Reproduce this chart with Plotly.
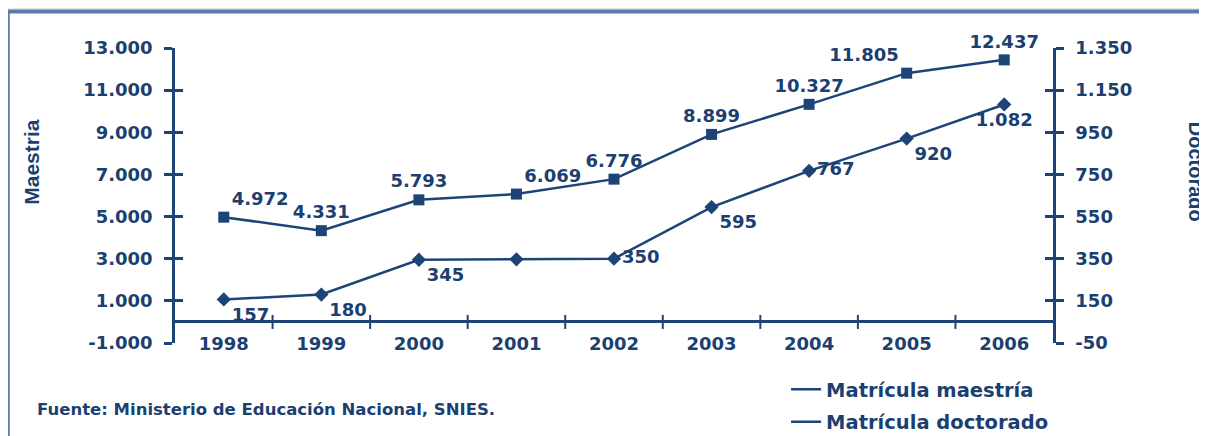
import plotly.graph_objects as go

# ---- data ----
years = [1998, 1999, 2000, 2001, 2002, 2003, 2004, 2005, 2006]
maestria = [4972, 4331, 5793, 6069, 6776, 8899, 10327, 11805, 12437]
doctorado = [157, 180, 345, 347, 350, 595, 767, 920, 1082]
doctorado_shown = [True, True, True, False, True, True, True, True, True]
left_ticks = [-1000, 1000, 3000, 5000, 7000, 9000, 11000, 13000]
right_ticks = [-50, 150, 350, 550, 750, 950, 1150, 1350]
series_names = ["Matrícula maestría", "Matrícula doctorado"]
source_text = "Fuente: Ministerio de Educación Nacional, SNIES."

# ---- style ----
NAVY = "#1d4477"
TXT = "#1b3f70"
FONT = "DejaVu Sans"
NARROW = "Liberation Sans Narrow, Liberation Sans, Arial Narrow"
maestria_pos = ["top right", "top center", "top center", "top right", "top center",
                "top center", "top center", "top left", "top center"]
doctorado_pos = ["bottom right", "bottom right", "bottom right", "middle right", "middle right",
                 "bottom right", "middle right", "bottom right", "bottom center"]


def fmt(v):
    return f"{v:,}".replace(",", ".")


fig = go.Figure()

fig.add_trace(go.Scatter(
    x=years, y=maestria, mode="lines+markers+text",
    text=[fmt(v) for v in maestria], textposition=maestria_pos,
    textfont=dict(family=FONT, size=18, color=TXT, weight="bold"),
    line=dict(color=NAVY, width=2.5),
    marker=dict(symbol="square", size=11, color=NAVY),
    cliponaxis=False, showlegend=False, yaxis="y", hoverinfo="skip"))

fig.add_trace(go.Scatter(
    x=years, y=doctorado, mode="lines+markers+text",
    text=[fmt(v) if s else "" for v, s in zip(doctorado, doctorado_shown)],
    textposition=doctorado_pos,
    textfont=dict(family=FONT, size=18, color=TXT, weight="bold"),
    line=dict(color=NAVY, width=2.5),
    marker=dict(symbol="diamond", size=11, color=NAVY),
    cliponaxis=False, showlegend=False, yaxis="y2", hoverinfo="skip"))

# category separator ticks on the x axis line (y = 0)
fig.add_trace(go.Scatter(
    x=[y + 0.5 for y in years[:-1]], y=[0] * (len(years) - 1), mode="markers",
    marker=dict(symbol="line-ns", size=10, line=dict(color=NAVY, width=2)),
    cliponaxis=False, showlegend=False, yaxis="y", hoverinfo="skip"))

# legend entries (line only)
for i, nm in enumerate(series_names):
    fig.add_trace(go.Scatter(x=[None], y=[None], mode="lines", name=nm,
                             legendgroup=f"g{i}",
                             line=dict(color=NAVY, width=2.5)))

# dummy traces for crossing-tick overlay axes
fig.add_trace(go.Scatter(x=[None], y=[None], yaxis="y3", showlegend=False))
fig.add_trace(go.Scatter(x=[None], y=[None], yaxis="y4", showlegend=False))

tickfont = dict(family=FONT, size=18, color=TXT, weight="bold")

fig.update_layout(
    width=1207, height=436, autosize=False,
    margin=dict(l=167, r=162, t=40, b=101, autoexpand=False),
    paper_bgcolor="#e6e7e9", plot_bgcolor="rgba(0,0,0,0)",
    font=dict(family=FONT, color=TXT),
    xaxis=dict(range=[1997.5, 2006.5], tickvals=years, ticktext=[str(y) for y in years],
               showline=False, showgrid=False, zeroline=False, ticks="",
               tickfont=tickfont, ticklabelstandoff=-12),
    yaxis=dict(range=[-1000, 13000], tickvals=left_ticks, ticktext=[fmt(v) for v in left_ticks],
               showline=True, linecolor=NAVY, linewidth=2.5, ticks="outside", ticklen=8,
               tickwidth=2.5, tickcolor=NAVY, showgrid=False,
               zeroline=True, zerolinecolor=NAVY, zerolinewidth=2.5,
               tickfont=tickfont, ticklabelstandoff=8),
    yaxis2=dict(range=[-50, 1350], tickvals=right_ticks, ticktext=[fmt(v) for v in right_ticks],
                overlaying="y", side="right", anchor="x",
                showline=True, linecolor=NAVY, linewidth=2.5, ticks="outside", ticklen=8,
                tickwidth=2.5, tickcolor=NAVY, showgrid=False, zeroline=False,
                tickfont=tickfont, ticklabelstandoff=8),
    yaxis3=dict(range=[-1000, 13000], tickvals=left_ticks, overlaying="y", side="left",
                anchor="x", showline=False, ticks="inside", ticklen=8, tickwidth=2.5,
                tickcolor=NAVY, showticklabels=False, showgrid=False, zeroline=False),
    yaxis4=dict(range=[-50, 1350], tickvals=right_ticks, overlaying="y", side="right",
                anchor="x", showline=False, ticks="inside", ticklen=8, tickwidth=2.5,
                tickcolor=NAVY, showticklabels=False, showgrid=False, zeroline=False),
    legend=dict(x=0.696, y=-0.092, xanchor="left", yanchor="top",
                bgcolor="rgba(0,0,0,0)", traceorder="grouped", tracegroupgap=4,
                font=dict(family=FONT, size=19.5, color=TXT, weight="bold")),
    shapes=[dict(type="rect", xref="paper", yref="paper",
                 x0=-0.1905, x1=1.3, y0=-0.7, y1=1.124,
                 line=dict(color="#5b7bab", width=4), fillcolor="white", layer="below")],
    annotations=[
        dict(text="Maestria", xref="paper", yref="paper", x=-0.163, y=0.614,
             textangle=-90, showarrow=False, xanchor="center", yanchor="middle",
             font=dict(family=NARROW, size=21, color=TXT, weight="bold")),
        dict(text="Doctorado", xref="paper", yref="paper", x=1.163, y=0.58,
             textangle=90, showarrow=False, xanchor="center", yanchor="middle",
             font=dict(family=NARROW, size=20, color=TXT, weight="bold")),
        dict(text=source_text, xref="paper", yref="paper", x=-0.16, y=-0.227,
             showarrow=False, xanchor="left", yanchor="middle",
             font=dict(family=FONT, size=16.5, color=TXT, weight="bold")),
    ],
)

fig.write_html("out.html")
